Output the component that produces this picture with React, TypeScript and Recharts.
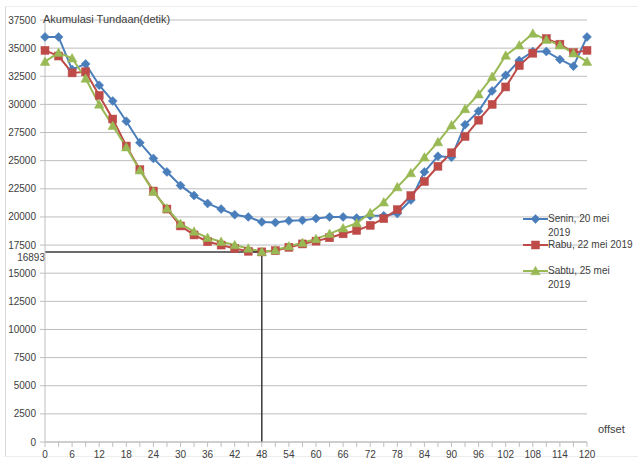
import React from 'react';
import { LineChart, Line, XAxis, YAxis, CartesianGrid, ReferenceLine, Legend } from 'recharts';

const offsets = [0, 3, 6, 9, 12, 15, 18, 21, 24, 27, 30, 33, 36, 39, 42, 45, 48, 51, 54, 57, 60, 63, 66, 69, 72, 75, 78, 81, 84, 87, 90, 93, 96, 99, 102, 105, 108, 111, 114, 117, 120];

const senin = [36000, 36000, 33100, 33600, 31700, 30300, 28500, 26600, 25200, 24000, 22800, 21900, 21200, 20700, 20200, 20000, 19550, 19500, 19650, 19700, 19850, 20000, 20000, 19900, 20100, 20100, 20300, 21500, 24000, 25400, 25300, 28200, 29400, 31200, 32600, 33900, 34700, 34700, 34000, 33400, 36000];

const rabu = [34800, 34300, 32800, 32900, 30800, 28700, 26300, 24200, 22300, 20700, 19200, 18400, 17800, 17500, 17200, 16950, 16893, 17000, 17300, 17600, 17850, 18150, 18500, 18800, 19250, 19850, 20650, 21900, 23150, 24500, 25700, 27150, 28600, 30000, 31550, 33450, 34550, 35850, 35350, 34600, 34800];

const sabtu = [33800, 34600, 34100, 32300, 30000, 28100, 26200, 24150, 22250, 20750, 19400, 18700, 18150, 17800, 17500, 17200, 16900, 17050, 17400, 17700, 18050, 18500, 19000, 19450, 20350, 21300, 22650, 23900, 25300, 26650, 28150, 29600, 30900, 32450, 34350, 35250, 36300, 35750, 35250, 34550, 33800];

const seriesNames = ['Senin, 20 mei 2019', 'Rabu, 22 mei 2019', 'Sabtu, 25 mei 2019'];
const legendLines = [['Senin, 20 mei', '2019'], ['Rabu, 22 mei 2019'], ['Sabtu, 25 mei', '2019']];
const seriesColors = ['#4a7ebb', '#be4b48', '#98b954'];
const markerKinds = ['diamond', 'square', 'triangle'];

const yTicks = [0, 2500, 5000, 7500, 10000, 12500, 15000, 17500, 20000, 22500, 25000, 27500, 30000, 32500, 35000, 37500];
const xTicks = offsets;
const minOffset = 48;
const minDelay = 16893;

const titleText = 'Akumulasi Tundaan(detik)';
const xAxisTitle = 'offset';

const data = offsets.map((o, i) => ({ offset: o, senin: senin[i], rabu: rabu[i], sabtu: sabtu[i] }));

const FONT = '"Liberation Sans", Arial, sans-serif';

function Marker({ kind, cx, cy, color }: { kind: string; cx: number; cy: number; color: string }) {
  if (kind === 'diamond') {
    const r = 4.5;
    return <path d={`M${cx},${cy - r}L${cx + r},${cy}L${cx},${cy + r}L${cx - r},${cy}Z`} fill={color} stroke={color} strokeWidth={0.5} />;
  }
  if (kind === 'square') {
    const r = 4;
    return <rect x={cx - r} y={cy - r} width={2 * r} height={2 * r} fill={color} stroke={color} strokeWidth={0.5} />;
  }
  const h = 8.5;
  const w = 9.5;
  return <path d={`M${cx},${cy - h / 2 - 0.5}L${cx + w / 2},${cy + h / 2 - 0.5}L${cx - w / 2},${cy + h / 2 - 0.5}Z`} fill={color} stroke={color} strokeWidth={0.5} />;
}

const makeDot = (idx: number) => (p: any) => {
  if (p.cx == null || p.cy == null) return <g key={`m-${idx}-${p.index}`} />;
  return (
    <g key={`m-${idx}-${p.index}`}>
      <Marker kind={markerKinds[idx]} cx={p.cx} cy={p.cy} color={seriesColors[idx]} />
    </g>
  );
};

function LegendContent() {
  return (
    <div style={{ position: 'relative', width: 114, height: 90, fontFamily: FONT, fontSize: 10, color: '#404040' }}>
      {seriesNames.map((name, i) => (
        <div key={name} style={{ position: 'absolute', left: 0, top: i * 26, width: 114 }}>
          <svg width={25} height={14} style={{ position: 'absolute', left: 0, top: 0 }}>
            <line x1={0} y1={7} x2={25} y2={7} stroke={seriesColors[i]} strokeWidth={2} />
            <Marker kind={markerKinds[i]} cx={12.5} cy={7} color={seriesColors[i]} />
          </svg>
          <div style={{ position: 'absolute', left: 25, top: 0, lineHeight: '13.5px', whiteSpace: 'nowrap' }}>
            {legendLines[i].map((ln, j) => (
              <div key={j}>{ln}</div>
            ))}
          </div>
        </div>
      ))}
    </div>
  );
}

const minLabel = (props: any) => {
  const vb = props.viewBox || {};
  const x = vb.x != null ? vb.x : 45;
  const y = vb.y != null ? vb.y : 252;
  return (
    <text x={x} y={y + 9.5} textAnchor="end" fontSize={10} fill="#404040" fontFamily={FONT}>
      {String(minDelay)}
    </text>
  );
};

export default function App() {
  return (
    <div style={{ position: 'absolute', left: 0, top: 0, width: 638, height: 464, background: '#fff', fontFamily: FONT, overflow: 'hidden' }}>
      <div style={{ position: 'absolute', left: 5, top: 6, width: 700, height: 449, borderLeft: '1px solid #d9d9d9', borderTop: '1px solid #eeeeee', borderBottom: '1px solid #eeeeee' }} />
      <LineChart width={638} height={464} data={data} margin={{ top: 20, right: 51, bottom: 0, left: 0 }} style={{ position: 'absolute', left: 0, top: 0 }}>
        <CartesianGrid vertical={false} stroke="#bdbdbd" strokeWidth={1} />
        <XAxis
          dataKey="offset"
          type="number"
          domain={[0, 120]}
          ticks={xTicks}
          interval={0}
          tickFormatter={(v: number) => (v % 6 === 0 ? String(v) : '')}
          tickSize={5}
          tickMargin={4}
          height={22}
          axisLine={{ stroke: '#bfbfbf' }}
          tickLine={{ stroke: '#bfbfbf' }}
          tick={{ fill: '#404040', fontSize: 10, fontFamily: FONT }}
        />
        <YAxis
          type="number"
          domain={[0, 37500]}
          ticks={yTicks}
          interval={0}
          width={45}
          tickSize={5}
          tickMargin={4}
          axisLine={{ stroke: '#bfbfbf' }}
          tickLine={{ stroke: '#bfbfbf' }}
          tick={{ fill: '#404040', fontSize: 10, fontFamily: FONT }}
        />
        <Line name={seriesNames[0]} dataKey="senin" stroke={seriesColors[0]} strokeWidth={2} dot={makeDot(0)} activeDot={false} isAnimationActive={false} />
        <Line name={seriesNames[1]} dataKey="rabu" stroke={seriesColors[1]} strokeWidth={2} dot={makeDot(1)} activeDot={false} isAnimationActive={false} />
        <Line name={seriesNames[2]} dataKey="sabtu" stroke={seriesColors[2]} strokeWidth={2} dot={makeDot(2)} activeDot={false} isAnimationActive={false} />
        <ReferenceLine
          segment={[{ x: 0, y: minDelay }, { x: minOffset, y: minDelay }]}
          stroke="#3a3a3a"
          strokeWidth={1.5}
          label={minLabel}
        />
        <ReferenceLine
          segment={[{ x: minOffset, y: minDelay }, { x: minOffset, y: 0 }]}
          stroke="#3a3a3a"
          strokeWidth={1.5}
        />
        <Legend
          layout="horizontal"
          verticalAlign="middle"
          align="center"
          content={() => <LegendContent />}
          wrapperStyle={{ left: 523, top: 212, width: 115, height: 90 }}
        />
      </LineChart>
      <div style={{ position: 'absolute', left: 43, top: 13, fontSize: 11, color: '#404040', whiteSpace: 'nowrap', lineHeight: '13px' }}>{titleText}</div>
      <div style={{ position: 'absolute', left: 598, top: 423, fontSize: 11, color: '#404040', whiteSpace: 'nowrap', lineHeight: '13px' }}>{xAxisTitle}</div>
    </div>
  );
}
